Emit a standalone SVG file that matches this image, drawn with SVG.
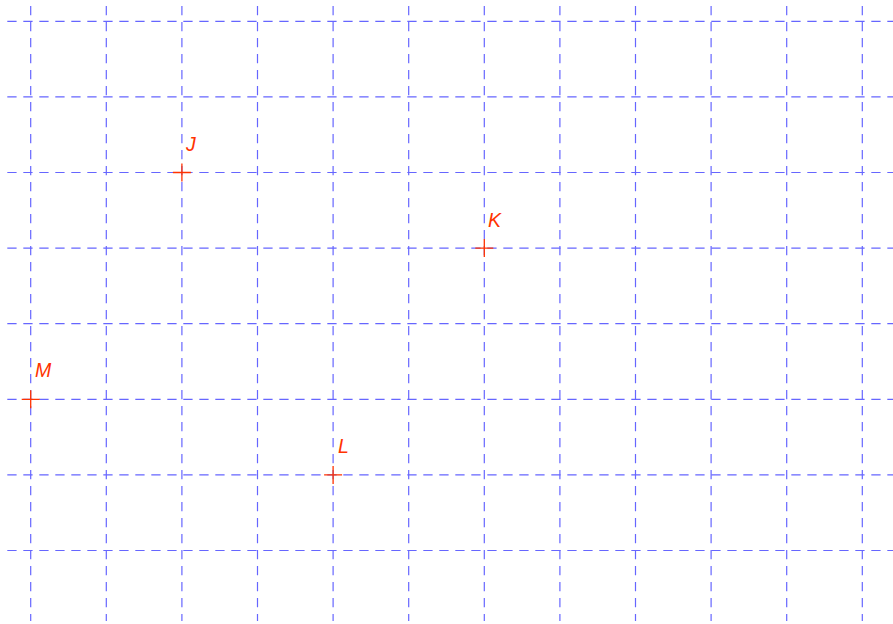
<svg xmlns="http://www.w3.org/2000/svg" width="893" height="624" viewBox="0 0 893 624">
<style>
.g{stroke:#6666ff;stroke-width:1.2;stroke-dasharray:9.3,6.7;fill:none}
.p{stroke:#ff3300;stroke-width:1.3;fill:none}
.t{font-family:"Liberation Sans",Arial,sans-serif;font-style:italic;font-size:19.5px;fill:#ff3300}
</style>
<rect width="893" height="624" fill="#ffffff"/>
<g id="grid">
<path class="g" d="M7.3 21.3H893M7.3 96.9H893M7.3 172.5H893M7.3 248.1H893M7.3 323.7H893M7.3 399.3H893M7.3 474.9H893M7.3 550.5H893"/>
<path class="g" d="M30.7 6V621M106.3 6V621M181.9 6V621M257.5 6V621M333.1 6V621M408.7 6V621M484.3 6V621M559.9 6V621M635.5 6V621M711.1 6V621M786.7 6V621M862.3 6V621"/>
</g>
<g id="J"><path class="p" d="M172.9 172.5H190.9M181.9 163.5V181.5"/><text class="t" x="186" y="150.7">J</text></g>
<g id="K"><path class="p" d="M475.3 248.1H493.3M484.3 239.1V257.1"/><text class="t" x="488" y="226.7">K</text></g>
<g id="M"><path class="p" d="M21.7 399.3H39.7M30.7 390.3V408.3"/><text class="t" x="35" y="377.3">M</text></g>
<g id="L"><path class="p" d="M324.1 474.9H342.1M333.1 465.9V483.9"/><text class="t" x="338" y="453.3">L</text></g>
</svg>
